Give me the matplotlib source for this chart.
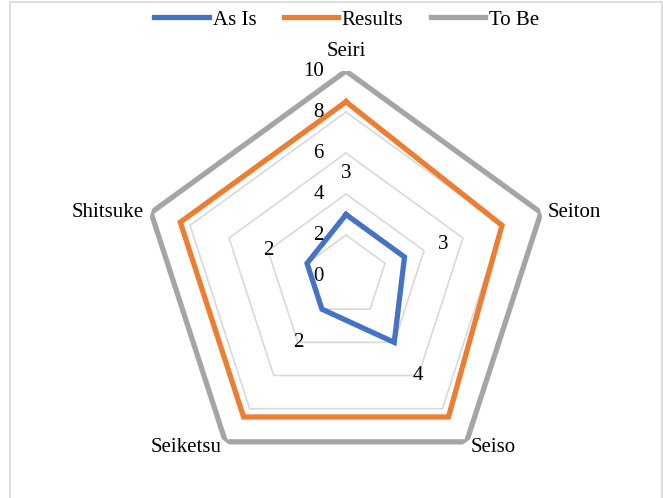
import numpy as np
import matplotlib
matplotlib.use("Agg")
import matplotlib.pyplot as plt
from matplotlib.patches import Rectangle

categories = ["Seiri", "Seiton", "Seiso", "Seiketsu", "Shitsuke"]
as_is = [3, 3, 4, 2, 2]
results = [8.5, 8, 8.5, 8.5, 8.5]
to_be = [10, 10, 10, 10, 10]
ring_values = [0, 2, 4, 6, 8, 10]

plt.rcParams['font.family'] = ['Liberation Serif', 'DejaVu Serif']
plt.rcParams['font.size'] = 15

fig = plt.figure(figsize=(6.63, 4.98), dpi=100)
ax = fig.add_axes([0.2127, 0.0341, 0.6184, 0.8233], projection='polar')
ax.set_theta_offset(np.pi / 2)
ax.set_theta_direction(-1)
ax.set_ylim(0, 10)
ax.grid(False)
ax.set_xticks([])
ax.set_yticks([])
ax.spines['polar'].set_visible(False)
ax.patch.set_visible(False)

angles = np.linspace(0, 2 * np.pi, len(categories), endpoint=False)
closed = np.append(angles, angles[0])

def close(vals):
    return np.append(vals, vals[0])

# pentagon grid rings
for v in ring_values[1:]:
    ax.plot(closed, [v] * len(closed), color='#D9D9D9', lw=1.2, zorder=1)

colors = {'As Is': '#4472C4', 'Results': '#ED7D31', 'To Be': '#A5A5A5'}
for name, vals in [('As Is', as_is), ('Results', results), ('To Be', to_be)]:
    ax.plot(closed, close(vals), color=colors[name], lw=3.8, label=name,
            solid_joinstyle='miter', zorder=3)

# value axis labels along Seiri
for v in ring_values:
    ax.annotate(str(v), xy=(0, v), xytext=(-16, 0), textcoords='offset points',
                ha='right', va='center', zorder=4)

# data labels for As Is
for a, v in zip(angles, as_is):
    ax.text(a, v + 2, str(v), ha='center', va='center', zorder=4)

# category labels
offsets = [(0, 14, 'center', 'center'),
           (5, 0, 'left', 'center'),
           (3, -4, 'left', 'center'),
           (-3, -4, 'right', 'center'),
           (-5, 0, 'right', 'center')]
for a, name, (dx, dy, ha, va) in zip(angles, categories, offsets):
    ax.annotate(name, xy=(a, 10), xytext=(dx, dy), textcoords='offset points',
                ha=ha, va=va, annotation_clip=False)

fig.legend(loc='center', bbox_to_anchor=(0.523, 0.96), ncol=3, frameon=False,
           handlelength=2.6, handletextpad=0.2, columnspacing=1.3)

fig.patches.append(Rectangle((10 / 663, -0.1), 652 / 663, 1.1 - 2 / 498,
                             transform=fig.transFigure, fill=False,
                             edgecolor='#D9D9D9', lw=1.2))

fig.savefig('out.png', dpi=100)
